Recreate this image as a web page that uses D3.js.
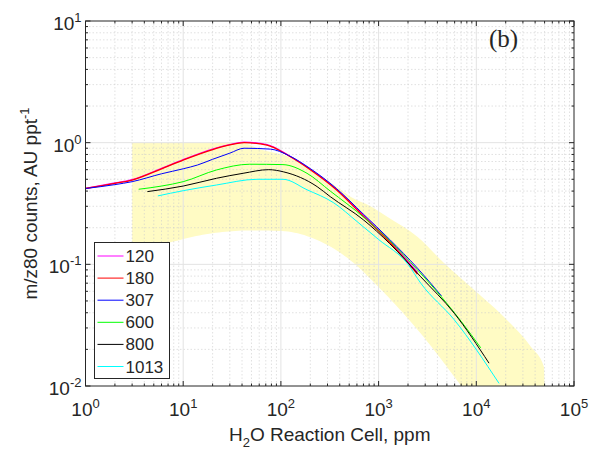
<!DOCTYPE html>
<html>
<head>
<meta charset="utf-8">
<script src="https://cdn.jsdelivr.net/npm/d3@7"></script>
<style>
  body { margin: 0; background: #fff; }
  text { font-family: "Liberation Sans", Arial, Helvetica, sans-serif; fill: #262626; }
</style>
</head>
<body>
<svg id="chart"></svg>
<script>
// legend names (total pressure, mbar)
const seriesNames = ["120", "180", "307", "600", "800", "1013"];

// H2O in reaction cell (ppm) and m/z80 counts for each series
const x120 = [1, 2, 3, 6, 10, 20, 30, 42, 72, 120, 200, 370, 700, 1300, 2500];
const y120 = [0.42, 0.466, 0.497, 0.615, 0.725, 0.885, 0.965, 1.01, 0.965, 0.785, 0.605, 0.415, 0.252, 0.155, 0.086];
const x180 = [1, 2, 3, 6, 10, 20, 30, 42, 72, 120, 200, 370, 700, 1300, 2500];
const y180 = [0.42, 0.463, 0.493, 0.61, 0.72, 0.878, 0.958, 1.0, 0.955, 0.78, 0.6, 0.41, 0.248, 0.152, 0.083];
const x307 = [1, 2, 3, 6, 10, 14, 20, 30, 42, 78, 120, 200, 370, 700, 1300, 2500, 4400];
const y307 = [0.42, 0.452, 0.478, 0.555, 0.61, 0.655, 0.73, 0.82, 0.9, 0.885, 0.785, 0.612, 0.42, 0.258, 0.16, 0.093, 0.055];
const x600 = [3.5, 6, 10, 22, 48, 105, 185, 320, 700, 1300, 2500, 4400, 7000, 11100];
const y600 = [0.414, 0.44, 0.478, 0.597, 0.665, 0.66, 0.56, 0.4, 0.245, 0.156, 0.09, 0.054, 0.034, 0.0206];
const x800 = [4.3, 10, 22, 41, 75, 107, 235, 320, 700, 1300, 2700, 5950, 13500];
const y800 = [0.396, 0.44, 0.51, 0.56, 0.6, 0.575, 0.435, 0.36, 0.232, 0.148, 0.079, 0.0396, 0.0154];
const x1013 = [5.5, 10, 22, 57, 105, 185, 348, 600, 1000, 2000, 2700, 5950, 17100];
const y1013 = [0.365, 0.403, 0.449, 0.5, 0.5, 0.41, 0.32, 0.225, 0.16, 0.1, 0.07, 0.035, 0.0105];

// shaded range: upper edge and lower edge, both left -> right
const bandUpX = [3, 40, 62, 107, 158, 235, 348, 516, 828, 1237, 2512, 4640, 8790, 19100, 36200, 49200, 50000];
const bandUpY = [1, 1, 0.88, 0.79, 0.68, 0.56, 0.45, 0.36, 0.3, 0.245, 0.168, 0.103, 0.065, 0.037, 0.021, 0.0144, 0.01];
const bandLoX = [3, 7, 16, 50, 100, 250, 500, 1000, 2700, 7000];
const bandLoY = [0.127, 0.15, 0.175, 0.19, 0.188, 0.155, 0.11, 0.065, 0.027, 0.01];

const xTicks = [1, 10, 100, 1000, 10000, 100000];
const yTicks = [0.01, 0.1, 1, 10];

const seriesX = [x120, x180, x307, x600, x800, x1013];
const seriesY = [y120, y180, y307, y600, y800, y1013];
const colors = ["#ff00ff", "#ff0000", "#0000ff", "#00ff00", "#000000", "#00ffff"];

const width = 593;
const height = 455;
const marginLeft = 85.5;
const marginRight = 19;
const marginTop = 21;
const marginBottom = 69;

const svg = d3.select("#chart")
    .attr("width", width)
    .attr("height", height)
    .attr("viewBox", [0, 0, width, height]);

const xScale = d3.scaleLog([1, 1e5], [marginLeft, width - marginRight]);
const yScale = d3.scaleLog([0.01, 10], [height - marginBottom, marginTop]);

const x0 = marginLeft, x1 = width - marginRight;
const y0 = height - marginBottom, y1 = marginTop;

const line = d3.line().x(d => xScale(d[0])).y(d => yScale(d[1])).curve(d3.curveMonotoneX);

// band: upper edge forward, then lower edge sampled and walked backwards
const upPath = line(bandUpX.map((x, i) => [x, bandUpY[i]]));
const loNode = svg.append("path")
    .attr("d", line(bandLoX.map((x, i) => [x, bandLoY[i]])))
    .attr("fill", "none").node();
const loLen = loNode.getTotalLength();
const loBack = d3.range(121).map(i => {
    const p = loNode.getPointAtLength(loLen * (120 - i) / 120);
    return p.x + "," + p.y;
});
loNode.remove();

svg.append("path")
    .attr("d", upPath + "L" + loBack.join("L") + "Z")
    .attr("fill", "#fffbc4")
    .attr("stroke", "none");

// grid
const minorVals = (lo, hi) => {
    const out = [];
    for (let e = lo; e < hi; e++) for (let m = 2; m <= 9; m++) out.push(m * Math.pow(10, e));
    return out;
};
const xMinor = minorVals(0, 5);
const yMinor = minorVals(-2, 1);

const grid = svg.append("g");
grid.selectAll(".xminor").data(xMinor).join("line")
    .attr("x1", d => xScale(d)).attr("x2", d => xScale(d))
    .attr("y1", y0).attr("y2", y1)
    .attr("stroke", "#cccccc").attr("stroke-width", 0.6).attr("stroke-dasharray", "1.5,2");
grid.selectAll(".yminor").data(yMinor).join("line")
    .attr("x1", x0).attr("x2", x1)
    .attr("y1", d => yScale(d)).attr("y2", d => yScale(d))
    .attr("stroke", "#cccccc").attr("stroke-width", 0.6).attr("stroke-dasharray", "1.5,2");
grid.selectAll(".xmajor").data(xTicks.slice(1, -1)).join("line")
    .attr("x1", d => xScale(d)).attr("x2", d => xScale(d))
    .attr("y1", y0).attr("y2", y1)
    .attr("stroke", "#e3e3e3").attr("stroke-width", 1);
grid.selectAll(".ymajor").data(yTicks.slice(1, -1)).join("line")
    .attr("x1", x0).attr("x2", x1)
    .attr("y1", d => yScale(d)).attr("y2", d => yScale(d))
    .attr("stroke", "#e3e3e3").attr("stroke-width", 1);

// series lines
seriesNames.forEach((name, i) => {
    svg.append("path")
        .attr("d", line(seriesX[i].map((x, j) => [x, seriesY[i][j]])))
        .attr("fill", "none")
        .attr("stroke", colors[i])
        .attr("stroke-width", i < 2 ? 1.3 : 1);
});

// axes box with inward ticks on all sides
const axisG = svg.append("g").attr("stroke", "#262626").attr("stroke-width", 1);
const tick = (ax, ay, bx, by) => axisG.append("line")
    .attr("x1", ax).attr("y1", ay).attr("x2", bx).attr("y2", by);
xTicks.forEach(v => { const x = xScale(v); tick(x, y0, x, y0 - 5); tick(x, y1, x, y1 + 5); });
xMinor.forEach(v => { const x = xScale(v); tick(x, y0, x, y0 - 2.5); tick(x, y1, x, y1 + 2.5); });
yTicks.forEach(v => { const y = yScale(v); tick(x0, y, x0 + 5, y); tick(x1, y, x1 - 5, y); });
yMinor.forEach(v => { const y = yScale(v); tick(x0, y, x0 + 2.5, y); tick(x1, y, x1 - 2.5, y); });
axisG.append("rect")
    .attr("x", x0).attr("y", y1).attr("width", x1 - x0).attr("height", y0 - y1)
    .attr("fill", "none");

// tick labels
const exp = v => Math.round(Math.log10(v));
xTicks.forEach(v => {
    const t = svg.append("text")
        .attr("x", xScale(v))
        .attr("y", y0 + 30)
        .attr("text-anchor", "middle")
        .attr("font-size", 19);
    t.append("tspan").text("10");
    t.append("tspan").attr("dy", -8).attr("font-size", 13).text(exp(v));
});
yTicks.forEach(v => {
    const t = svg.append("text")
        .attr("x", x0 - 4)
        .attr("y", yScale(v) + 9)
        .attr("text-anchor", "end")
        .attr("font-size", 19);
    t.append("tspan").text("10");
    t.append("tspan").attr("dy", -8).attr("font-size", 13).text(exp(v));
});

// axis labels
const xl = svg.append("text")
    .attr("x", (x0 + x1) / 2)
    .attr("y", 441)
    .attr("text-anchor", "middle")
    .attr("font-size", 19);
xl.append("tspan").text("H");
xl.append("tspan").attr("dy", 6).attr("font-size", 13).text("2");
xl.append("tspan").attr("dy", -6).text("O Reaction Cell, ppm");

const yl = svg.append("text")
    .attr("transform", `translate(37,${(y0 + y1) / 2}) rotate(-90)`)
    .attr("text-anchor", "middle")
    .attr("font-size", 19);
yl.append("tspan").text("m/z80 counts, AU ppt");
yl.append("tspan").attr("dy", -8).attr("font-size", 13).text("-1");

// panel tag
svg.append("text")
    .attr("x", 489)
    .attr("y", 47)
    .style("font-family", "'Liberation Serif', 'Times New Roman', serif")
    .attr("font-size", 25)
    .text("(b)");

// legend
const legX = 94.5, legY = 242.5, legW = 75, legH = 136, rowH = 22.1;
const leg = svg.append("g");
leg.append("rect")
    .attr("x", legX).attr("y", legY).attr("width", legW).attr("height", legH)
    .attr("fill", "#fff").attr("stroke", "#262626").attr("stroke-width", 1);
seriesNames.forEach((name, i) => {
    const y = legY + 13.5 + i * rowH;
    leg.append("line")
        .attr("x1", legX + 3).attr("x2", legX + 29)
        .attr("y1", y).attr("y2", y)
        .attr("stroke", colors[i]).attr("stroke-width", 1);
    leg.append("text")
        .attr("x", legX + 31)
        .attr("y", y + 6)
        .attr("font-size", 17)
        .text(name);
});
</script>
</body>
</html>
